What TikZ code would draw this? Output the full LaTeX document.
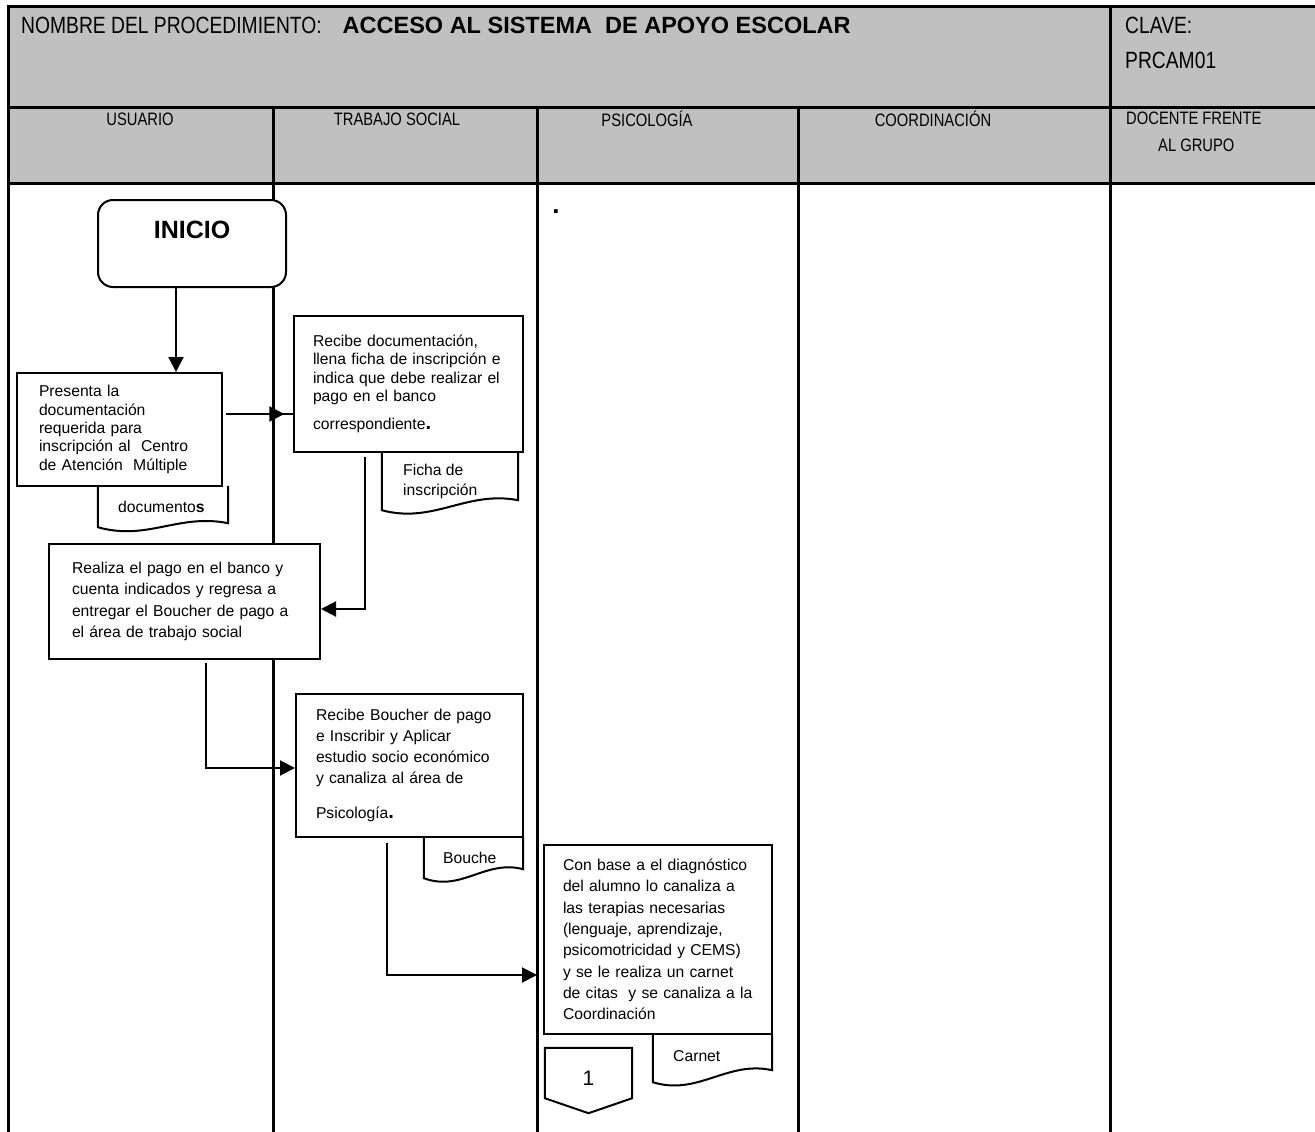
\documentclass[tikz,border=0pt]{standalone}
\usepackage{fontspec}
\setmainfont{Liberation Sans}
\newfontfamily\narrowfont{Liberation Sans}[FakeStretch=0.82]
\usetikzlibrary{arrows.meta,calc,decorations.markings}
\definecolor{headgray}{RGB}{192,192,192}
\tikzset{
  gridline/.style={line width=3pt, line cap=rect},
  procbox/.style={draw, line width=2pt, fill=white, rectangle, inner ysep=0pt, align=left},
  docbox/.style={rectangle, inner sep=0pt},
  doctext/.style={anchor=north west, inner sep=0pt, align=left, font=\fontsize{15.7}{20}\selectfont},
  flow/.style={line width=2pt},
  tipend/.style={-{Triangle[length=15pt,width=15pt]}},
  midtip/.style={decoration={markings, mark=at position #1 with {\arrow{Triangle[length=15pt,width=15pt]}}}, postaction={decorate}},
  headtext/.style={font=\narrowfont\fontsize{18}{22}\selectfont, inner sep=0pt},
  titletext/.style={font=\narrowfont\fontsize{23.5}{28}\selectfont, inner sep=0pt},
}
% document symbol: straight sides, wavy bottom edge (left end lower by #2)
\newcommand\docoutline[2]{%
  \draw[flow, fill=white] (#1.north west) -- (#1.south west)
    .. controls ($(#1.south west)!0.38!(#1.south east)+(0,14)$) and ($(#1.south west)!0.62!(#1.south east)+(0,-#2-10)$)
    .. ($(#1.south east)+(0,-#2)$) -- (#1.north east);}
\newcommand\bigdot{{\fontsize{20}{20}\selectfont\bfseries .}}

\begin{document}
\begin{tikzpicture}[x=1pt,y=-1pt]
\useasboundingbox (0,0) rectangle (1315,1132);

% ---- table frame ----
\fill[headgray] (8,7) rectangle (1315,183);
\draw[gridline] (8,7) -- (1315,7);
\draw[gridline] (8,107) -- (1315,107);
\draw[gridline] (8,183) -- (1315,183);
\draw[gridline] (8,7) -- (8,1132);
\draw[gridline] (1110,7) -- (1110,1132);
\foreach \cx in {273,537,798} \draw[gridline] (\cx,107) -- (\cx,1132);

% ---- title and lane headers ----
\node[titletext, anchor=west] (title) at (21,25)
  {NOMBRE DEL PROCEDIMIENTO:\hspace{21pt}{\rmfamily\bfseries ACCESO AL SISTEMA\ \ DE APOYO ESCOLAR}};
\node[titletext, anchor=west] (clave) at (1125,25) {CLAVE:};
\node[titletext, anchor=west] (claveval) at (1125,60) {PRCAM01};

\node[headtext] (hUsuario) at (140,119) {USUARIO};
\node[headtext] (hTrabajo) at (397,119) {TRABAJO SOCIAL};
\node[headtext] (hPsico) at (647,119) {PSICOLOGÍA};
\node[headtext] (hCoord) at (933,119) {COORDINACIÓN};
\node[headtext, anchor=west] (hDocente) at (1126,118) {DOCENTE FRENTE};
\node[headtext, anchor=west] (hGrupo) at (1158,145) {AL GRUPO};

\node[inner sep=0pt, font=\bfseries\fontsize{26}{26}\selectfont] (psidot) at (556,212) {.};

% ---- documents ----
\node[docbox, minimum width=130pt, minimum height=41pt] (docDocs) at (163,506.5) {};
\docoutline{docDocs}{4}
\node[doctext, anchor=west] (docDocsTxt) at (118,507) {documento\textbf{s}};

\node[docbox, minimum width=136pt, minimum height=58pt] (docFicha) at (450,481) {};
\docoutline{docFicha}{10}
\node[doctext] (docFichaTxt) at (403,464) {Ficha de\\inscripción};

\node[docbox, minimum width=99pt, minimum height=41pt] (docBouche) at (473.5,857.5) {};
\docoutline{docBouche}{9}
\node[doctext, anchor=west] (docBoucheTxt) at (443,858) {Bouche};

\node[docbox, minimum width=119pt, minimum height=48pt] (docCarnet) at (712.5,1058) {};
\docoutline{docCarnet}{12}
\node[doctext, anchor=west] (docCarnetTxt) at (673,1056) {Carnet};

% ---- start terminal ----
\node[draw, line width=2pt, fill=white, rounded corners=15pt,
      minimum width=188pt, minimum height=87pt] (inicio) at (192,243.5) {};
\node[font=\bfseries\fontsize{25}{30}\selectfont, inner sep=0pt] (inicioTxt) at (192,230) {INICIO};

% ---- process boxes ----
\node[procbox, text width=161pt, inner xsep=22pt, minimum height=113pt,
      font=\fontsize{15.7}{18.3}\selectfont] (presenta) at (119.5,429.5)
  {Presenta la\\documentación\\requerida para\\inscripción al\ \ Centro\\de Atención\ \ Múltiple};

\node[procbox, text width=191pt, inner xsep=19pt, minimum height=136pt,
      font=\fontsize{15.7}{18.3}\selectfont] (recibe) at (408.5,384)
  {Recibe documentación,\\llena ficha de inscripción e\\indica que debe realizar el\\pago en el banco\\[10pt]correspondiente\bigdot};

\node[procbox, text width=225pt, inner xsep=23pt, minimum height=115pt,
      font=\fontsize{15.7}{21.5}\selectfont] (realiza) at (184.5,601.5)
  {Realiza el pago en el banco y\\cuenta indicados y regresa a\\entregar el Boucher de pago a\\el área de trabajo social};

\node[procbox, text width=187pt, inner xsep=20pt, minimum height=143pt,
      font=\fontsize{15.7}{21}\selectfont] (boucher) at (409.5,765.5)
  {Recibe Boucher de pago\\e Inscribir y Aplicar\\estudio socio económico\\y canaliza al área de\\[14pt]Psicología\bigdot};

\node[procbox, text width=190pt, inner xsep=19pt, minimum height=189pt,
      font=\fontsize{15.7}{21.3}\selectfont] (conbase) at (658,939.5)
  {Con base a el diagnóstico\\del alumno lo canaliza a\\las terapias necesarias\\(lenguaje, aprendizaje,\\psicomotricidad y CEMS)\\y se le realiza un carnet\\de citas\ \ y se canaliza a la\\Coordinación};

% ---- off-page connector ----
\node[docbox, minimum width=87pt, minimum height=50pt] (off1) at (588.5,1073) {};
\draw[flow, fill=white] (off1.south west) -- (off1.north west) -- (off1.north east)
  -- (off1.south east) -- ($(off1.south)+(0,15)$) -- cycle;
\node[inner sep=0pt, font=\fontsize{21}{25}\selectfont] (off1Txt) at (588.5,1078) {1};

% ---- connectors ----
\coordinate (a1) at (176,287);
\draw[flow, tipend] (a1) -- (a1 |- presenta.north);

\coordinate (a2) at (226,414);
\draw[flow, midtip=0.87] (a2) -- (a2 -| recibe.west);

\coordinate (a3) at (365,457);
\coordinate (a3b) at (365,609);
\draw[flow, tipend] (a3) -- (a3b) -- (a3b -| realiza.east);

\coordinate (a4) at (206,663);
\coordinate (a4b) at (206,768);
\draw[flow, tipend] (a4) -- (a4b) -- (a4b -| boucher.west);

\coordinate (a5) at (387,843);
\coordinate (a5b) at (387,975);
\draw[flow, tipend, shorten >=6pt] (a5) -- (a5b) -- (a5b -| conbase.west);
\end{tikzpicture}
\end{document}
